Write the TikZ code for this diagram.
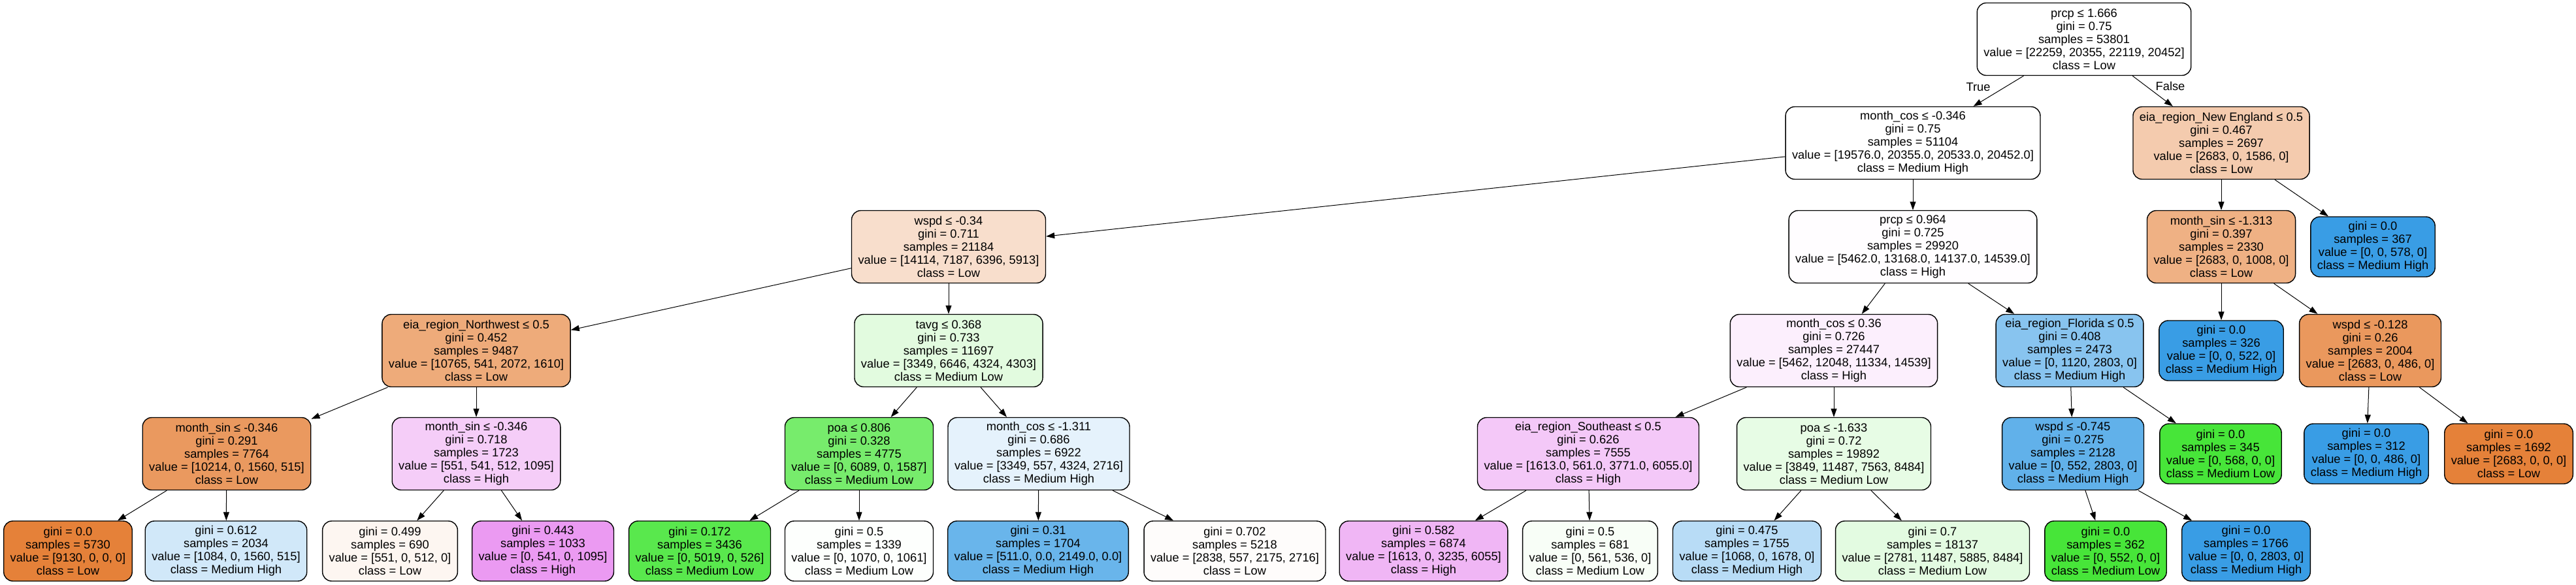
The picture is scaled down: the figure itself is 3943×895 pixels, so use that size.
\documentclass[tikz,border=0pt]{standalone}
\usepackage{fontspec}
\setmainfont{Liberation Sans}
\usetikzlibrary{arrows.meta}

\definecolor{lowc}{RGB}{229,129,57}
\definecolor{mlowc}{RGB}{71,229,57}
\definecolor{mhighc}{RGB}{57,157,229}
\definecolor{highc}{RGB}{215,57,229}

\begin{document}
\begin{tikzpicture}[
    x=1pt, y=-1pt,
    font=\fontsize{18.3}{20}\selectfont,
    >={Triangle[length=13pt, width=9pt]},
    decision/.style={shape=rectangle, rounded corners=14pt, draw=black, line width=1.4pt, align=center, inner xsep=10pt, inner ysep=0pt, minimum height=111pt},
    leafnode/.style={decision, minimum height=92pt},
]
\useasboundingbox (0, 0) rectangle (3943, 895);

% depth 0 and 1
\node[decision, fill=white] (root) at (3190, 60) {prcp ≤ 1.666\\gini = 0.75\\samples = 53801\\value = [22259, 20355, 22119, 20452]\\class = Low};
\node (tl) at (3028, 133) {True};
\node (fl) at (3322, 132) {False};
\node[decision, fill=white] (mc1) at (2928, 219) {month\_cos ≤ -0.346\\gini = 0.75\\samples = 51104\\value = [19576.0, 20355.0, 20533.0, 20452.0]\\class = Medium High};
\node[decision, fill=lowc!41] (ne) at (3400, 219) {eia\_region\_New England ≤ 0.5\\gini = 0.467\\samples = 2697\\value = [2683, 0, 1586, 0]\\class = Low};

% depth 2
\node[decision, fill=lowc!26] (ws1) at (1452, 378) {wspd ≤ -0.34\\gini = 0.711\\samples = 21184\\value = [14114, 7187, 6396, 5913]\\class = Low};
\node[decision, fill=highc!1] (pr2) at (2928, 378) {prcp ≤ 0.964\\gini = 0.725\\samples = 29920\\value = [5462.0, 13168.0, 14137.0, 14539.0]\\class = High};
\node[decision, fill=lowc!62] (ms3) at (3400, 378) {month\_sin ≤ -1.313\\gini = 0.397\\samples = 2330\\value = [2683, 0, 1008, 0]\\class = Low};
\node[leafnode, fill=mhighc] (lf367) at (3632, 378) {gini = 0.0\\samples = 367\\value = [0, 0, 578, 0]\\class = Medium High};

% depth 3
\node[decision, fill=lowc!67] (nw) at (729, 537) {eia\_region\_Northwest ≤ 0.5\\gini = 0.452\\samples = 9487\\value = [10765, 541, 2072, 1610]\\class = Low};
\node[decision, fill=mlowc!16] (tv) at (1452, 537) {tavg ≤ 0.368\\gini = 0.733\\samples = 11697\\value = [3349, 6646, 4324, 4303]\\class = Medium Low};
\node[decision, fill=highc!8] (mc4) at (2807, 537) {month\_cos ≤ 0.36\\gini = 0.726\\samples = 27447\\value = [5462, 12048, 11334, 14539]\\class = High};
\node[decision, fill=mhighc!60] (flo) at (3168, 537) {eia\_region\_Florida ≤ 0.5\\gini = 0.408\\samples = 2473\\value = [0, 1120, 2803, 0]\\class = Medium High};
\node[leafnode, fill=mhighc] (lf326) at (3400, 537) {gini = 0.0\\samples = 326\\value = [0, 0, 522, 0]\\class = Medium High};
\node[decision, fill=lowc!82] (ws5) at (3628, 537) {wspd ≤ -0.128\\gini = 0.26\\samples = 2004\\value = [2683, 0, 486, 0]\\class = Low};

% depth 4
\node[decision, fill=lowc!81] (ms6) at (347, 695) {month\_sin ≤ -0.346\\gini = 0.291\\samples = 7764\\value = [10214, 0, 1560, 515]\\class = Low};
\node[decision, fill=highc!25] (ms7) at (729, 695) {month\_sin ≤ -0.346\\gini = 0.718\\samples = 1723\\value = [551, 541, 512, 1095]\\class = High};
\node[decision, fill=mlowc!74] (poa8) at (1315, 695) {poa ≤ 0.806\\gini = 0.328\\samples = 4775\\value = [0, 6089, 0, 1587]\\class = Medium Low};
\node[decision, fill=mhighc!13] (mc9) at (1590, 695) {month\_cos ≤ -1.311\\gini = 0.686\\samples = 6922\\value = [3349, 557, 4324, 2716]\\class = Medium High};
\node[decision, fill=highc!28] (se) at (2431, 695) {eia\_region\_Southeast ≤ 0.5\\gini = 0.626\\samples = 7555\\value = [1613.0, 561.0, 3771.0, 6055.0]\\class = High};
\node[decision, fill=mlowc!13] (poa10) at (2807, 695) {poa ≤ -1.633\\gini = 0.72\\samples = 19892\\value = [3849, 11487, 7563, 8484]\\class = Medium Low};
\node[decision, fill=mhighc!80] (ws11) at (3173, 695) {wspd ≤ -0.745\\gini = 0.275\\samples = 2128\\value = [0, 552, 2803, 0]\\class = Medium High};
\node[leafnode, fill=mlowc] (lf345) at (3399, 695) {gini = 0.0\\samples = 345\\value = [0, 568, 0, 0]\\class = Medium Low};
\node[leafnode, fill=mhighc] (lf312) at (3622, 695) {gini = 0.0\\samples = 312\\value = [0, 0, 486, 0]\\class = Medium High};
\node[leafnode, fill=lowc] (lf1692) at (3840, 695) {gini = 0.0\\samples = 1692\\value = [2683, 0, 0, 0]\\class = Low};

% depth 5
\node[leafnode, fill=lowc] (lf5730) at (104, 844) {gini = 0.0\\samples = 5730\\value = [9130, 0, 0, 0]\\class = Low};
\node[leafnode, fill=mhighc!23] (lf2034) at (346, 844) {gini = 0.612\\samples = 2034\\value = [1084, 0, 1560, 515]\\class = Medium High};
\node[leafnode, fill=lowc!7] (lf690) at (597, 844) {gini = 0.499\\samples = 690\\value = [551, 0, 512, 0]\\class = Low};
\node[leafnode, fill=highc!51] (lf1033) at (831, 844) {gini = 0.443\\samples = 1033\\value = [0, 541, 0, 1095]\\class = High};
\node[leafnode, fill=mlowc!90] (lf3436) at (1071, 844) {gini = 0.172\\samples = 3436\\value = [0, 5019, 0, 526]\\class = Medium Low};
\node[leafnode, fill=mlowc!1] (lf1339) at (1315, 844) {gini = 0.5\\samples = 1339\\value = [0, 1070, 0, 1061]\\class = Medium Low};
\node[leafnode, fill=mhighc!76] (lf1704) at (1589, 844) {gini = 0.31\\samples = 1704\\value = [511.0, 0.0, 2149.0, 0.0]\\class = Medium High};
\node[leafnode, fill=lowc!2] (lf5218) at (1890, 844) {gini = 0.702\\samples = 5218\\value = [2838, 557, 2175, 2716]\\class = Low};
\node[leafnode, fill=highc!37] (lf6874) at (2179, 844) {gini = 0.582\\samples = 6874\\value = [1613, 0, 3235, 6055]\\class = High};
\node[leafnode, fill=mlowc!4] (lf681) at (2434, 844) {gini = 0.5\\samples = 681\\value = [0, 561, 536, 0]\\class = Medium Low};
\node[leafnode, fill=mhighc!36] (lf1755) at (2674, 844) {gini = 0.475\\samples = 1755\\value = [1068, 0, 1678, 0]\\class = Medium High};
\node[leafnode, fill=mlowc!15] (lf18137) at (2958, 844) {gini = 0.7\\samples = 18137\\value = [2781, 11487, 5885, 8484]\\class = Medium Low};
\node[leafnode, fill=mlowc] (lf362) at (3223, 844) {gini = 0.0\\samples = 362\\value = [0, 552, 0, 0]\\class = Medium Low};
\node[leafnode, fill=mhighc] (lf1766) at (3438, 844) {gini = 0.0\\samples = 1766\\value = [0, 0, 2803, 0]\\class = Medium High};

\path[->, line width=1pt]
    (root) edge (mc1)
    (root) edge (ne)
    (mc1) edge (ws1)
    (mc1) edge (pr2)
    (ne) edge (ms3)
    (ne) edge (lf367)
    (ws1) edge (nw)
    (ws1) edge (tv)
    (pr2) edge (mc4)
    (pr2) edge (flo)
    (ms3) edge (lf326)
    (ms3) edge (ws5)
    (nw) edge (ms6)
    (nw) edge (ms7)
    (tv) edge (poa8)
    (tv) edge (mc9)
    (mc4) edge (se)
    (mc4) edge (poa10)
    (flo) edge (ws11)
    (flo) edge (lf345)
    (ws5) edge (lf312)
    (ws5) edge (lf1692)
    (ms6) edge (lf5730)
    (ms6) edge (lf2034)
    (ms7) edge (lf690)
    (ms7) edge (lf1033)
    (poa8) edge (lf3436)
    (poa8) edge (lf1339)
    (mc9) edge (lf1704)
    (mc9) edge (lf5218)
    (se) edge (lf6874)
    (se) edge (lf681)
    (poa10) edge (lf1755)
    (poa10) edge (lf18137)
    (ws11) edge (lf362)
    (ws11) edge (lf1766)
;
\end{tikzpicture}
\end{document}
